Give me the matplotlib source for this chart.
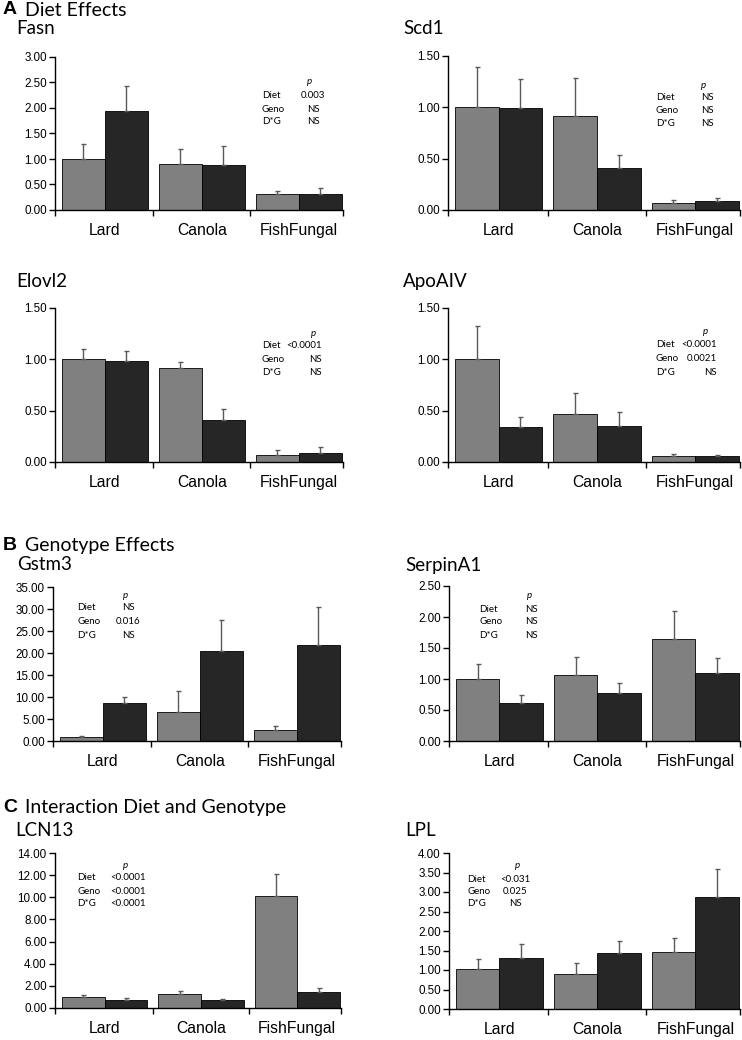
import numpy as np
import matplotlib
matplotlib.use("Agg")
import matplotlib.pyplot as plt
from matplotlib.ticker import MultipleLocator, FormatStrFormatter, FixedLocator

# ── Data ─────────────────────────────────────────────────────────────────────
DIETS = ["Lard", "Canola", "FishFungal"]
GENES = ["Fasn", "Scd1", "Elovl2", "ApoAIV", "Gstm3", "SerpinA1", "LCN13", "LPL"]

GRAY_MEAN = {
    "Fasn":     [1.00, 0.91, 0.31],
    "Scd1":     [1.00, 0.92, 0.07],
    "Elovl2":   [1.00, 0.92, 0.07],
    "ApoAIV":   [1.00, 0.47, 0.06],
    "Gstm3":    [1.00, 6.50, 2.55],
    "SerpinA1": [1.00, 1.06, 1.64],
    "LCN13":    [1.00, 1.30, 10.15],
    "LPL":      [1.02, 0.91, 1.46],
}
GRAY_ERR = {
    "Fasn":     [0.30, 0.28, 0.07],
    "Scd1":     [0.39, 0.37, 0.03],
    "Elovl2":   [0.10, 0.05, 0.05],
    "ApoAIV":   [0.32, 0.20, 0.015],
    "Gstm3":    [0.20, 4.90, 0.75],
    "SerpinA1": [0.25, 0.29, 0.45],
    "LCN13":    [0.14, 0.20, 1.95],
    "LPL":      [0.26, 0.26, 0.35],
}
BLACK_MEAN = {
    "Fasn":     [1.94, 0.89, 0.31],
    "Scd1":     [0.99, 0.41, 0.09],
    "Elovl2":   [0.98, 0.41, 0.09],
    "ApoAIV":   [0.34, 0.35, 0.055],
    "Gstm3":    [8.70, 20.40, 21.80],
    "SerpinA1": [0.61, 0.77, 1.10],
    "LCN13":    [0.72, 0.72, 1.45],
    "LPL":      [1.32, 1.43, 2.88],
}
BLACK_ERR = {
    "Fasn":     [0.50, 0.36, 0.13],
    "Scd1":     [0.29, 0.13, 0.03],
    "Elovl2":   [0.10, 0.11, 0.06],
    "ApoAIV":   [0.095, 0.14, 0.015],
    "Gstm3":    [1.20, 7.00, 8.60],
    "SerpinA1": [0.14, 0.17, 0.24],
    "LCN13":    [0.15, 0.09, 0.33],
    "LPL":      [0.34, 0.31, 0.72],
}
Y_MAX  = {"Fasn": 3.0, "Scd1": 1.5, "Elovl2": 1.5, "ApoAIV": 1.5,
          "Gstm3": 35, "SerpinA1": 2.5, "LCN13": 14, "LPL": 4.0}
Y_STEP = {"Fasn": 0.5, "Scd1": 0.5, "Elovl2": 0.5, "ApoAIV": 0.5,
          "Gstm3": 5, "SerpinA1": 0.5, "LCN13": 2, "LPL": 0.5}

STAT_ROWS = ["Diet", "Geno", "D*G"]
P_VALUES = {
    "Fasn":     ["0.003", "NS", "NS"],
    "Scd1":     ["NS", "NS", "NS"],
    "Elovl2":   ["<0.0001", "NS", "NS"],
    "ApoAIV":   ["<0.0001", "0.0021", "NS"],
    "Gstm3":    ["NS", "0.016", "NS"],
    "SerpinA1": ["NS", "NS", "NS"],
    "LCN13":    ["<0.0001", "<0.0001", "<0.0001"],
    "LPL":      ["<0.031", "0.025", "NS"],
}
SECTIONS = [("A", "Diet Effects", 10),
            ("B", "Genotype Effects", 545),
            ("C", "Interaction Diet and Genotype", 808)]

# ── Layout (pixels) ──────────────────────────────────────────────────────────
W, H = 742, 1040
# axes box: left, top, right, bottom
AX_BOX = {
    "Fasn":     (55, 57, 343, 210),
    "Scd1":     (448, 56, 740, 210),
    "Elovl2":   (55, 308, 343, 462),
    "ApoAIV":   (448, 308, 740, 462),
    "Gstm3":    (53, 587, 341, 741),
    "SerpinA1": (449, 586, 740, 741),
    "LCN13":    (55, 853, 341, 1008),
    "LPL":      (449, 853, 740, 1009),
}
TITLE_POS = {
    "Fasn": (16, 28), "Scd1": (403, 28), "Elovl2": (16, 282), "ApoAIV": (403, 282),
    "Gstm3": (17, 565), "SerpinA1": (405, 565), "LCN13": (15, 830), "LPL": (405, 830),
}
# label x, value x, value align, p x, p y, first row y, row step
STAT_POS = {
    "Fasn":     (262, 313, "center", 309, 82, 96, 13),
    "Scd1":     (656, 707, "center", 703, 85, 98, 12.5),
    "Elovl2":   (262, 322, "right", 313, 333, 346, 13),
    "ApoAIV":   (656, 717, "right", 705, 332, 345, 13.5),
    "Gstm3":    (77, 128, "center", 125, 595, 608, 13.5),
    "SerpinA1": (479, 531, "center", 529, 596, 609, 13),
    "LCN13":    (77, 128, "center", 125, 865, 878, 13),
    "LPL":      (467, 515, "center", 517, 866, 879, 12.5),
}

GRAY  = "#808080"
BLACK = "#262626"
CAL   = "Lato"
ARIAL = "Liberation Sans"
STAT_FS = 7.0

fig = plt.figure(figsize=(W / 100, H / 100), dpi=100)


def fx(x):
    return x / W


def fy(y):
    return 1 - y / H


x = np.arange(len(DIETS))
bw = 0.443

for g in GENES:
    l, t, r, b = AX_BOX[g]
    ax = fig.add_axes([fx(l), fy(b), fx(r) - fx(l), (b - t) / H])
    ax.bar(x - bw / 2, GRAY_MEAN[g], bw, color=GRAY, edgecolor="black", lw=0.6,
           yerr=[np.zeros(3), GRAY_ERR[g]], ecolor="#5a5a5a",
           error_kw=dict(elinewidth=1, capsize=1.8, capthick=1), zorder=2)
    ax.bar(x + bw / 2, BLACK_MEAN[g], bw, color=BLACK, edgecolor="black", lw=0.6,
           yerr=[np.zeros(3), BLACK_ERR[g]], ecolor="#5a5a5a",
           error_kw=dict(elinewidth=1, capsize=1.8, capthick=1), zorder=2)

    ax.set_xlim(-0.515, 2.455)
    ax.set_ylim(0, Y_MAX[g])
    ax.yaxis.set_major_locator(MultipleLocator(Y_STEP[g]))
    ax.yaxis.set_major_formatter(FormatStrFormatter("%.2f"))
    ax.set_xticks(x)
    ax.set_xticklabels(DIETS, fontsize=11.3, family=ARIAL)
    ax.xaxis.set_minor_locator(FixedLocator([-0.515, 0.5, 1.5, 2.455]))
    ax.tick_params(axis="x", which="major", length=0, pad=9.5)
    ax.tick_params(axis="x", which="minor", length=4, width=1, direction="out")
    ax.tick_params(axis="y", length=4, width=1, direction="out", pad=2,
                   labelsize=8.4)
    for lbl in ax.get_yticklabels():
        lbl.set_family(ARIAL)
    for s in ("top", "right"):
        ax.spines[s].set_visible(False)
    for s in ("left", "bottom"):
        ax.spines[s].set_linewidth(1)

    tx, ty = TITLE_POS[g]
    fig.text(fx(tx), fy(ty), g, fontsize=13.5, family=CAL, ha="left", va="center")

    lx, vx, va_, px_, py_, ry, step = STAT_POS[g]
    fig.text(fx(px_), fy(py_), "p", fontsize=STAT_FS, family=CAL, style="italic",
             ha="center", va="center")
    for i, (row, pv) in enumerate(zip(STAT_ROWS, P_VALUES[g])):
        yy = fy(ry + i * step)
        fig.text(fx(lx), yy, row, fontsize=STAT_FS, family=CAL, ha="left", va="center")
        fig.text(fx(vx), yy, pv, fontsize=STAT_FS, family=CAL, ha=va_, va="center")

for letter, label, y in SECTIONS:
    fig.text(fx(3), fy(y), letter, fontsize=14, family=ARIAL, weight="bold",
             ha="left", va="center")
    fig.text(fx(25), fy(y), label, fontsize=14, family=CAL, ha="left", va="center")

fig.savefig("out.png", dpi=100)
